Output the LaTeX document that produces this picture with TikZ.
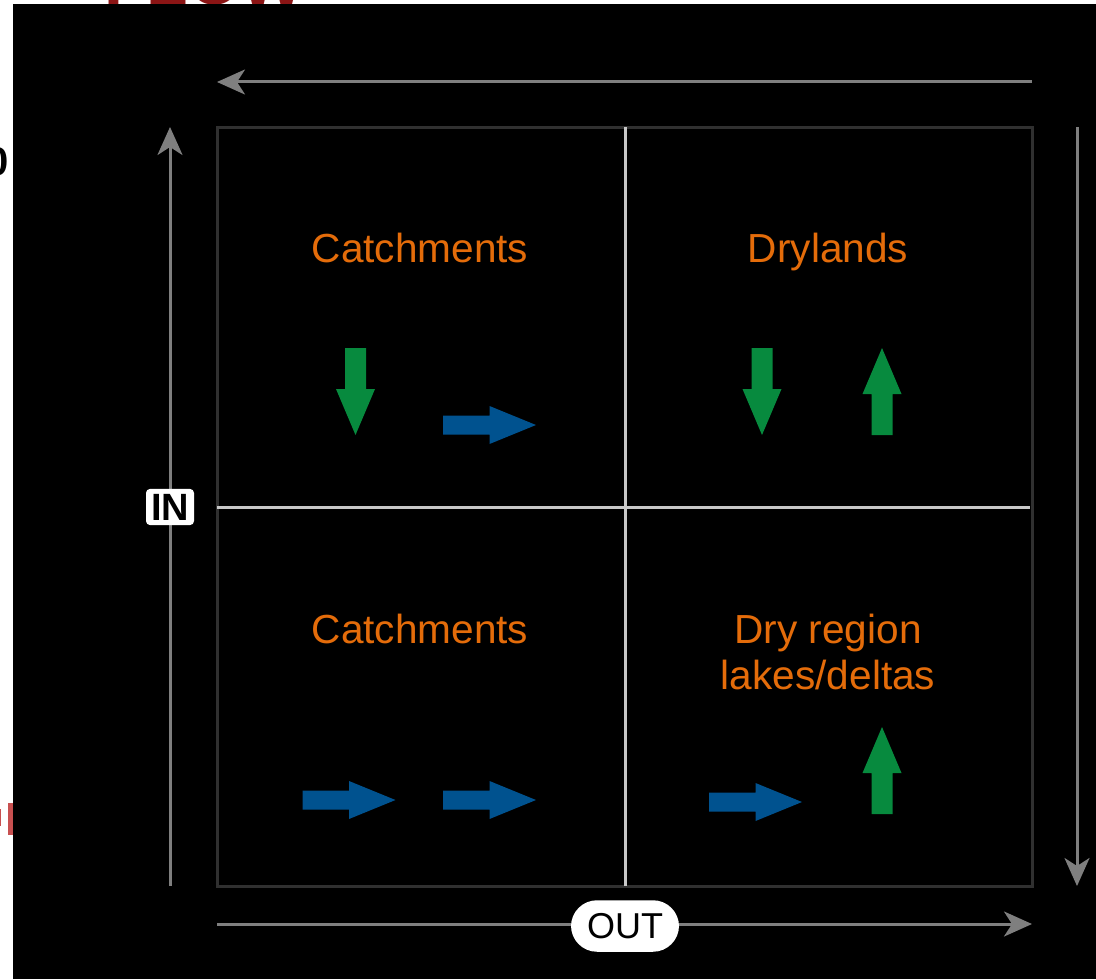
\documentclass[tikz,border=0pt]{standalone}
\usepackage{fontspec}
\setmainfont{Liberation Sans}
\usetikzlibrary{arrows.meta}
\definecolor{labelorange}{HTML}{E46C0A}
\definecolor{arrowgreen}{HTML}{078A3E}
\definecolor{arrowblue}{HTML}{00528F}
\definecolor{axisgray}{HTML}{7F7F7F}
\definecolor{framegray}{HTML}{303030}
\definecolor{dividergray}{HTML}{C8C8C8}
\definecolor{clipred}{HTML}{8B1515}
\definecolor{clippink}{HTML}{C85050}
\tikzset{
  frame/.style={draw=framegray, line width=1.5pt},
  divider/.style={draw=dividergray, line width=1.5pt},
  axis/.style={draw=axisgray, line width=1.5pt, -{Stealth[length=14pt,width=12.5pt,inset=4pt]}},
  region/.style={text=labelorange, font=\fontsize{20.3}{23}\selectfont, align=center},
  axislabel/.style={fill=white, text=black, rounded corners=2pt, inner sep=2.5pt, font=\bfseries\fontsize{19}{19}\selectfont},
  outlabel/.style={fill=white, text=black, rounded corners=13pt, inner xsep=8pt, inner ysep=6.5pt, font=\fontsize{18}{18}\selectfont},
  rarrow/.pic={\fill[arrowblue] (-46.5,-9.5) -- (0,-9.5) -- (0,-19) -- (46.5,0) -- (0,19) -- (0,9.5) -- (-46.5,9.5) -- cycle;},
  darrow/.pic={\fill[arrowgreen] (-10.5,-43.5) -- (10.5,-43.5) -- (10.5,-2.5) -- (19.5,-2.5) -- (0,43.5) -- (-19.5,-2.5) -- (-10.5,-2.5) -- cycle;},
  uarrow/.pic={\fill[arrowgreen] (-10.5,43.5) -- (10.5,43.5) -- (10.5,2.5) -- (19.5,2.5) -- (0,-43.5) -- (-19.5,2.5) -- (-10.5,2.5) -- cycle;},
}
\begin{document}
\begin{tikzpicture}[x=0.5pt,y=-0.5pt]
\useasboundingbox (0,0) rectangle (1096,979);
\fill[white] (0,0) rectangle (1096,979);
% clipped fragments outside the black panel
\begin{scope}
  \clip (0,0) rectangle (1096,4);
  \node[anchor=base, text=clipred, font=\bfseries\fontsize{34}{34}\selectfont] (fragtop) at (205,5) {FLOW};
\end{scope}
\begin{scope}
  \clip (0,0) rectangle (13,979);
  \node[anchor=east, inner sep=0pt, text=black, font=\bfseries\fontsize{20}{20}\selectfont] (fragzero) at (9,162) {0};
  \fill[clippink] (8,803) rectangle (13,835);
  \fill[clippink] (-6,809) rectangle (1,826);
\end{scope}
\fill[black] (13,4) rectangle (1096,979);
% quadrant frame and dividers
\draw[frame] (217,127) rectangle (1032,886);
\coordinate (vtop) at (625,127);
\coordinate (vbot) at (625,886);
\coordinate (hleft) at (217,507);
\coordinate (hright) at (1030,507);
\draw[divider] (vtop) -- (vbot);
\draw[divider] (hleft) -- (hright);
% axis arrows
\coordinate (topR) at (1032,82);
\coordinate (topL) at (217,82);
\coordinate (leftB) at (170,886);
\coordinate (leftT) at (170,127);
\coordinate (rightT) at (1077,127);
\coordinate (rightB) at (1077,886);
\coordinate (botL) at (217,924);
\coordinate (botR) at (1032,924);
\draw[axis] (topR) -- (topL);
\draw[axis] (leftB) -- (leftT);
\draw[axis] (rightT) -- (rightB);
\draw[axis] (botL) -- (botR);
\node[axislabel] (in) at (170,507) {IN};
\node[outlabel] (out) at (625,926) {OUT};
% region labels
\node[region, anchor=base] (tl) at (420,262) {Catchments};
\node[region, anchor=base] (tr) at (828,262) {Drylands};
\node[region, anchor=base] (bl) at (420,643) {Catchments};
\node[region, anchor=base] (br1) at (828,643) {Dry region};
\node[region, anchor=base] (br2) at (828,689) {lakes/deltas};
% block arrows
\pic at (355.5,391.5) {darrow};
\pic at (489.5,425) {rarrow};
\pic at (762,391.5) {darrow};
\pic at (882,391.5) {uarrow};
\pic at (349,800) {rarrow};
\pic at (489.5,800) {rarrow};
\pic at (755.5,802) {rarrow};
\pic at (882,770.5) {uarrow};
\end{tikzpicture}
\end{document}
